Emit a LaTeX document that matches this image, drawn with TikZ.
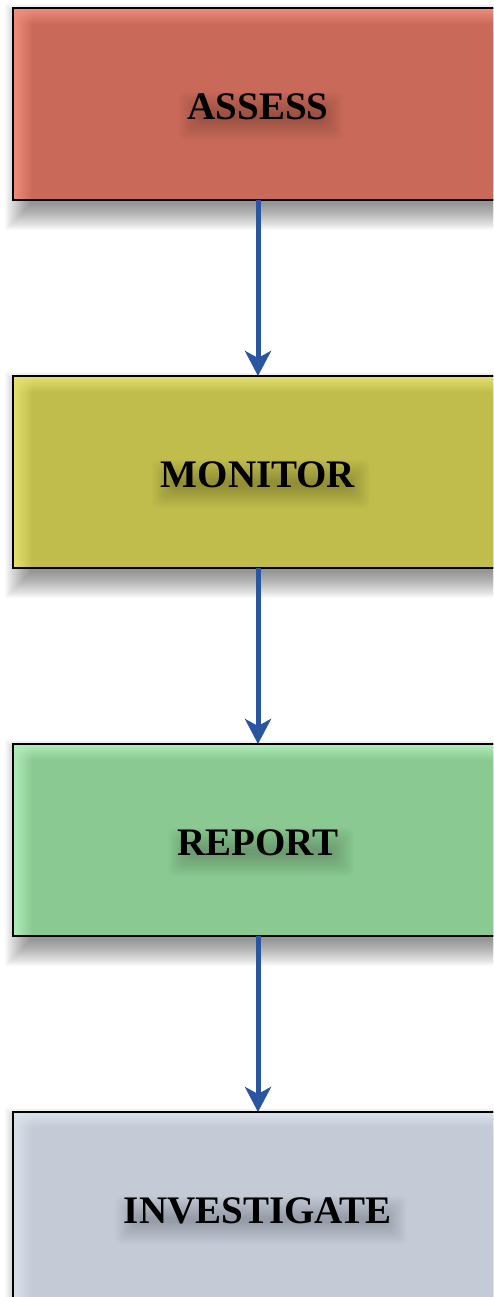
\documentclass[tikz,border=0pt]{standalone}
\usepackage{fontspec}
\setmainfont{Liberation Serif}
\usetikzlibrary{arrows.meta,fadings,calc}
\tikzfading[name=hlright, left color=transparent!0, right color=transparent!100]
\tikzfading[name=hldown, top color=transparent!0, bottom color=transparent!100]
\pgfdeclarelayer{labels}
\pgfsetlayers{main,labels}
\definecolor{fillA}{HTML}{C96959}
\definecolor{liteA}{HTML}{F08E7D}
\definecolor{fillB}{HTML}{C0BD4D}
\definecolor{liteB}{HTML}{E6E16F}
\definecolor{fillC}{HTML}{8BC993}
\definecolor{liteC}{HTML}{B0EDB8}
\definecolor{fillD}{HTML}{C5CBD6}
\definecolor{liteD}{HTML}{DCE2EC}
\definecolor{arrowc}{HTML}{2A55A2}
\newcommand\stagefont{\fontsize{39}{41}\selectfont\bfseries}
\begin{document}
\begin{tikzpicture}[x=1pt,y=-1pt,
  stagebox/.style={draw=black, line width=2pt, minimum width=490pt, minimum height=192pt,
    inner sep=0pt, outer sep=0pt, anchor=north west},
  stagelabel/.style={font=\stagefont, text=black, inner sep=0pt},
  boxshade/.style={black, opacity=0.02},
  textshade/.style={black, opacity=0.009, rounded corners=6pt},
  flow/.style={draw=arrowc, line width=5pt, -{Stealth[length=25pt, width=26pt, inset=7pt]}}
]
\useasboundingbox (0,0) rectangle (493,1297);
\clip (0,0) rectangle (493,1297);
\foreach \n/\t/\f/\l/\txt in {assess/8/fillA/liteA/ASSESS, monitor/376/fillB/liteB/MONITOR,
    report/744/fillC/liteC/REPORT, investigate/1112/fillD/liteD/INVESTIGATE}{
  % blurred drop shadow
  \foreach \i in {-8,...,18}{
    \fill[boxshade] (13+10-\i, \t+14-\i) rectangle (503+10+\i, \t+192+12+\i);
  }
  \node[stagebox, fill=\f] (\n) at (13,\t) {};
  % inner highlights
  \fill[\l, path fading=hlright] (13,\t) rectangle ++(20,192);
  \fill[\l, path fading=hldown] (13,\t) rectangle ++(490,16);
  \draw[line width=2pt] (\n.north west) rectangle (\n.south east);
  % label on top layer
  \begin{pgfonlayer}{labels}
    \node[stagelabel] (\n-label) at ($(\n.center)+(0,3)$) {\txt};
  \end{pgfonlayer}
  % blurred text shadow
  \foreach \i in {-10,...,12}{
    \fill[textshade] ($(\n-label.north west)+(3-\i,10-\i)$) rectangle ($(\n-label.south east)+(3+\i,8+\i)$);
  }
}
\draw[flow] (assess.south) -- (monitor.north);
\draw[flow] (monitor.south) -- (report.north);
\draw[flow] (report.south) -- (investigate.north);
\end{tikzpicture}
\end{document}
